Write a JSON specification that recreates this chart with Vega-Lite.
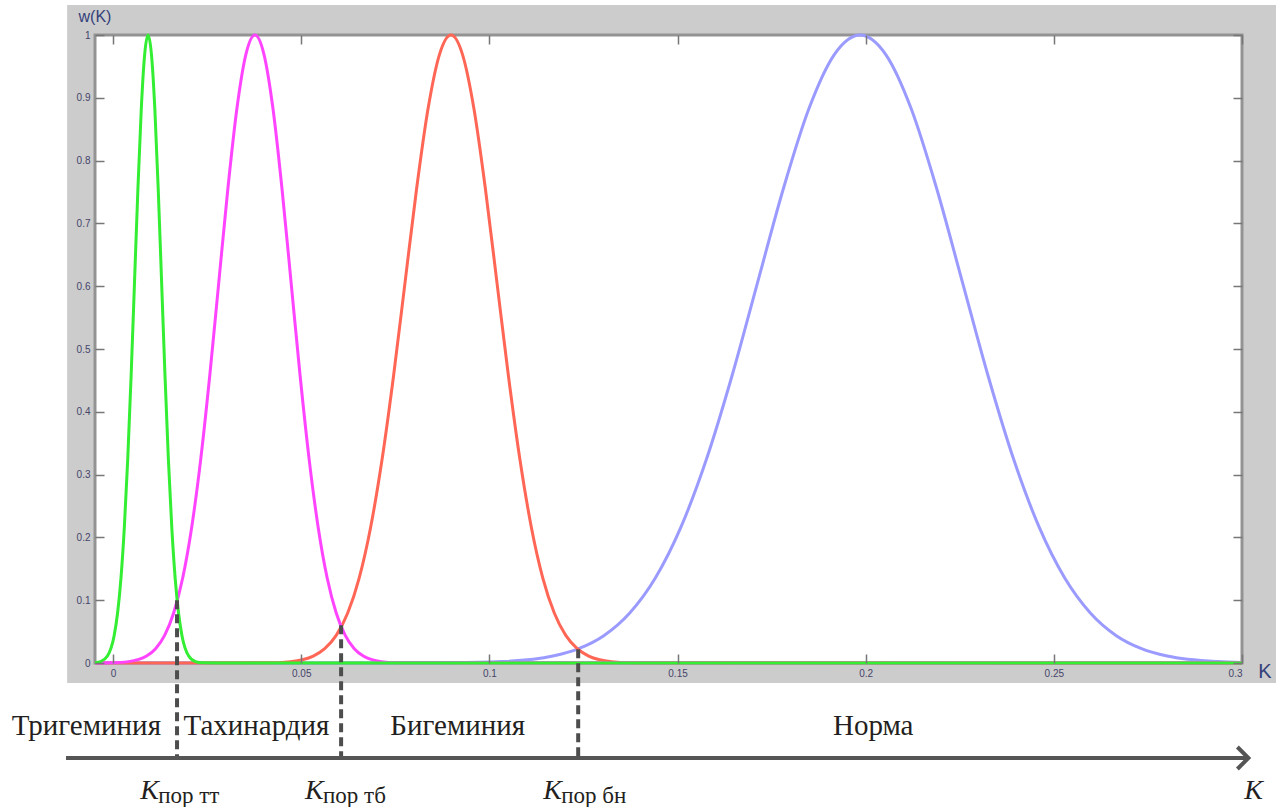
{
  "$schema": "https://vega.github.io/schema/vega-lite/v6.json",
  "width": 1147,
  "height": 628,
  "autosize": {"type": "none"},
  "padding": {"left": 95, "top": 35, "right": 34, "bottom": 144},
  "background": "white",
  "config": {
    "view": {"stroke": null, "fill": null},
    "axis": {
      "grid": false,
      "domain": false,
      "labelFont": "Liberation Sans",
      "labelFontSize": 10,
      "labelColor": "#45456a",
      "tickColor": "#777777",
      "tickWidth": 1.5,
      "tickSize": -9,
      "labelPadding": 14
    }
  },
  "datasets": {
    "panel": [{"x1": -0.0122, "x2": 0.3092, "y1": -0.0319, "y2": 1.0478}],
    "plot": [{"x1": -0.0048, "x2": 0.3, "y1": 0, "y2": 1}],
    "curves": [
      {"series": "Норма", "k": -0.0048, "w": 0},
      {"series": "Норма", "k": 0.08, "w": 0.0001},
      {"series": "Норма", "k": 0.0897, "w": 0.0003},
      {"series": "Норма", "k": 0.1033, "w": 0.0022},
      {"series": "Норма", "k": 0.1169, "w": 0.0111},
      {"series": "Норма", "k": 0.1237, "w": 0.0228},
      {"series": "Норма", "k": 0.1305, "w": 0.0439},
      {"series": "Норма", "k": 0.1373, "w": 0.0796},
      {"series": "Норма", "k": 0.1441, "w": 0.1353},
      {"series": "Норма", "k": 0.1509, "w": 0.2163},
      {"series": "Норма", "k": 0.1577, "w": 0.3247},
      {"series": "Норма", "k": 0.1645, "w": 0.4578},
      {"series": "Норма", "k": 0.1713, "w": 0.6065},
      {"series": "Норма", "k": 0.1781, "w": 0.7548},
      {"series": "Норма", "k": 0.1849, "w": 0.8825},
      {"series": "Норма", "k": 0.1917, "w": 0.9692},
      {"series": "Норма", "k": 0.1985, "w": 1},
      {"series": "Норма", "k": 0.2053, "w": 0.9692},
      {"series": "Норма", "k": 0.2121, "w": 0.8825},
      {"series": "Норма", "k": 0.2189, "w": 0.7548},
      {"series": "Норма", "k": 0.2257, "w": 0.6065},
      {"series": "Норма", "k": 0.2325, "w": 0.4578},
      {"series": "Норма", "k": 0.2393, "w": 0.3247},
      {"series": "Норма", "k": 0.2461, "w": 0.2163},
      {"series": "Норма", "k": 0.2529, "w": 0.1353},
      {"series": "Норма", "k": 0.2597, "w": 0.0796},
      {"series": "Норма", "k": 0.2665, "w": 0.0439},
      {"series": "Норма", "k": 0.2733, "w": 0.0228},
      {"series": "Норма", "k": 0.2801, "w": 0.0111},
      {"series": "Норма", "k": 0.2937, "w": 0.0022},
      {"series": "Норма", "k": 0.3, "w": 0.0009},

      {"series": "Бигеминия", "k": -0.0048, "w": 0},
      {"series": "Бигеминия", "k": 0.041, "w": 0.0003},
      {"series": "Бигеминия", "k": 0.0471, "w": 0.0022},
      {"series": "Бигеминия", "k": 0.0532, "w": 0.0111},
      {"series": "Бигеминия", "k": 0.05625, "w": 0.0228},
      {"series": "Бигеминия", "k": 0.0593, "w": 0.0439},
      {"series": "Бигеминия", "k": 0.06235, "w": 0.0796},
      {"series": "Бигеминия", "k": 0.0654, "w": 0.1353},
      {"series": "Бигеминия", "k": 0.06845, "w": 0.2163},
      {"series": "Бигеминия", "k": 0.0715, "w": 0.3247},
      {"series": "Бигеминия", "k": 0.07455, "w": 0.4578},
      {"series": "Бигеминия", "k": 0.0776, "w": 0.6065},
      {"series": "Бигеминия", "k": 0.08065, "w": 0.7548},
      {"series": "Бигеминия", "k": 0.0837, "w": 0.8825},
      {"series": "Бигеминия", "k": 0.08675, "w": 0.9692},
      {"series": "Бигеминия", "k": 0.0898, "w": 1},
      {"series": "Бигеминия", "k": 0.09285, "w": 0.9692},
      {"series": "Бигеминия", "k": 0.0959, "w": 0.8825},
      {"series": "Бигеминия", "k": 0.09895, "w": 0.7548},
      {"series": "Бигеминия", "k": 0.102, "w": 0.6065},
      {"series": "Бигеминия", "k": 0.10505, "w": 0.4578},
      {"series": "Бигеминия", "k": 0.1081, "w": 0.3247},
      {"series": "Бигеминия", "k": 0.11115, "w": 0.2163},
      {"series": "Бигеминия", "k": 0.1142, "w": 0.1353},
      {"series": "Бигеминия", "k": 0.11725, "w": 0.0796},
      {"series": "Бигеминия", "k": 0.1203, "w": 0.0439},
      {"series": "Бигеминия", "k": 0.12335, "w": 0.0228},
      {"series": "Бигеминия", "k": 0.1264, "w": 0.0111},
      {"series": "Бигеминия", "k": 0.1325, "w": 0.0022},
      {"series": "Бигеминия", "k": 0.1386, "w": 0.0003},
      {"series": "Бигеминия", "k": 0.3, "w": 0},

      {"series": "Тахинардия", "k": -0.0048, "w": 0},
      {"series": "Тахинардия", "k": -0.0007, "w": 0.0003},
      {"series": "Тахинардия", "k": 0.0041, "w": 0.0022},
      {"series": "Тахинардия", "k": 0.0089, "w": 0.0111},
      {"series": "Тахинардия", "k": 0.0113, "w": 0.0228},
      {"series": "Тахинардия", "k": 0.0137, "w": 0.0439},
      {"series": "Тахинардия", "k": 0.0161, "w": 0.0796},
      {"series": "Тахинардия", "k": 0.0185, "w": 0.1353},
      {"series": "Тахинардия", "k": 0.0209, "w": 0.2163},
      {"series": "Тахинардия", "k": 0.0233, "w": 0.3247},
      {"series": "Тахинардия", "k": 0.0257, "w": 0.4578},
      {"series": "Тахинардия", "k": 0.0281, "w": 0.6065},
      {"series": "Тахинардия", "k": 0.0305, "w": 0.7548},
      {"series": "Тахинардия", "k": 0.0329, "w": 0.8825},
      {"series": "Тахинардия", "k": 0.0353, "w": 0.9692},
      {"series": "Тахинардия", "k": 0.0377, "w": 1},
      {"series": "Тахинардия", "k": 0.0401, "w": 0.9692},
      {"series": "Тахинардия", "k": 0.0425, "w": 0.8825},
      {"series": "Тахинардия", "k": 0.0449, "w": 0.7548},
      {"series": "Тахинардия", "k": 0.0473, "w": 0.6065},
      {"series": "Тахинардия", "k": 0.0497, "w": 0.4578},
      {"series": "Тахинардия", "k": 0.0521, "w": 0.3247},
      {"series": "Тахинардия", "k": 0.0545, "w": 0.2163},
      {"series": "Тахинардия", "k": 0.0569, "w": 0.1353},
      {"series": "Тахинардия", "k": 0.0593, "w": 0.0796},
      {"series": "Тахинардия", "k": 0.0617, "w": 0.0439},
      {"series": "Тахинардия", "k": 0.0641, "w": 0.0228},
      {"series": "Тахинардия", "k": 0.0665, "w": 0.0111},
      {"series": "Тахинардия", "k": 0.0713, "w": 0.0022},
      {"series": "Тахинардия", "k": 0.0761, "w": 0.0003},
      {"series": "Тахинардия", "k": 0.3, "w": 0},

      {"series": "Тригеминия", "k": -0.0048, "w": 0.0004},
      {"series": "Тригеминия", "k": -0.0033, "w": 0.0022},
      {"series": "Тригеминия", "k": -0.0015, "w": 0.0111},
      {"series": "Тригеминия", "k": 0.0003, "w": 0.0439},
      {"series": "Тригеминия", "k": 0.0012, "w": 0.0796},
      {"series": "Тригеминия", "k": 0.0021, "w": 0.1353},
      {"series": "Тригеминия", "k": 0.003, "w": 0.2163},
      {"series": "Тригеминия", "k": 0.0039, "w": 0.3247},
      {"series": "Тригеминия", "k": 0.0048, "w": 0.4578},
      {"series": "Тригеминия", "k": 0.0057, "w": 0.6065},
      {"series": "Тригеминия", "k": 0.0066, "w": 0.7548},
      {"series": "Тригеминия", "k": 0.0075, "w": 0.8825},
      {"series": "Тригеминия", "k": 0.0084, "w": 0.9692},
      {"series": "Тригеминия", "k": 0.0093, "w": 1},
      {"series": "Тригеминия", "k": 0.0102, "w": 0.9692},
      {"series": "Тригеминия", "k": 0.0111, "w": 0.8825},
      {"series": "Тригеминия", "k": 0.012, "w": 0.7548},
      {"series": "Тригеминия", "k": 0.0129, "w": 0.6065},
      {"series": "Тригеминия", "k": 0.0138, "w": 0.4578},
      {"series": "Тригеминия", "k": 0.0147, "w": 0.3247},
      {"series": "Тригеминия", "k": 0.0156, "w": 0.2163},
      {"series": "Тригеминия", "k": 0.0165, "w": 0.1353},
      {"series": "Тригеминия", "k": 0.0174, "w": 0.0796},
      {"series": "Тригеминия", "k": 0.0183, "w": 0.0439},
      {"series": "Тригеминия", "k": 0.0201, "w": 0.0111},
      {"series": "Тригеминия", "k": 0.0219, "w": 0.0022},
      {"series": "Тригеминия", "k": 0.0237, "w": 0.0003},
      {"series": "Тригеминия", "k": 0.03, "w": 0},
      {"series": "Тригеминия", "k": 0.3, "w": 0}
    ],
    "thresholds": [
      {"k": 0.017, "top": 0.1, "bottom": -0.1513},
      {"k": 0.0606, "top": 0.06, "bottom": -0.1513},
      {"k": 0.1236, "top": 0.022, "bottom": -0.1513}
    ],
    "axisline": [{"k1": -0.0125, "k2": 0.3012, "level": -0.1513}],
    "arrowhead": [{"k": 0.3017, "level": -0.1513}],
    "regions": [
      {"label": "Тригеминия", "k": -0.0071, "level": -0.1146},
      {"label": "Тахинардия", "k": 0.0381, "level": -0.1146},
      {"label": "Бигеминия", "k": 0.0916, "level": -0.1146},
      {"label": "Норма", "k": 0.202, "level": -0.1146}
    ],
    "kmain": [
      {"label": "K", "k": 0.0072, "level": -0.2166},
      {"label": "K", "k": 0.051, "level": -0.2166},
      {"label": "K", "k": 0.1143, "level": -0.2166},
      {"label": "K", "k": 0.3006, "level": -0.2166}
    ],
    "ksub": [
      {"label": "пор тт", "k": 0.012, "level": -0.2225},
      {"label": "пор тб", "k": 0.0558, "level": -0.2225},
      {"label": "пор бн", "k": 0.1191, "level": -0.2225}
    ],
    "wlabel": [{"label": "w(K)", "k": -0.0048, "level": 1.0207}],
    "klabel": [{"label": "K", "k": 0.3043, "level": -0.0239}]
  },
  "layer": [
    {
      "data": {"name": "panel"},
      "mark": {"type": "rect", "fill": "#cccccc", "clip": false},
      "encoding": {
        "x": {"field": "x1", "type": "quantitative", "axis": null},
        "x2": {"field": "x2"},
        "y": {"field": "y1", "type": "quantitative", "axis": null},
        "y2": {"field": "y2"}
      }
    },
    {
      "data": {"name": "plot"},
      "mark": {"type": "rect", "fill": "white", "stroke": "#939393", "strokeWidth": 3, "clip": false},
      "encoding": {
        "x": {"field": "x1", "type": "quantitative", "axis": {"orient": "top", "zindex": 1, "labels": false, "title": null, "values": [0, 0.05, 0.1, 0.15, 0.2, 0.25, 0.3]}},
        "x2": {"field": "x2"},
        "y": {"field": "y1", "type": "quantitative", "axis": {"orient": "right", "zindex": 1, "labels": false, "title": null, "values": [0, 0.1, 0.2, 0.3, 0.4, 0.5, 0.6, 0.7, 0.8, 0.9, 1]}},
        "y2": {"field": "y2"}
      }
    },
    {
      "data": {"name": "curves"},
      "mark": {"type": "line", "strokeWidth": 3, "interpolate": "monotone", "clip": false},
      "encoding": {
        "x": {"field": "k", "type": "quantitative",
              "scale": {"domain": [-0.0048, 0.3], "nice": false, "zero": false},
              "axis": {"orient": "bottom", "zindex": 1, "title": null, "format": "~g", "values": [0, 0.05, 0.1, 0.15, 0.2, 0.25, 0.3]}},
        "y": {"field": "w", "type": "quantitative",
              "scale": {"domain": [0, 1], "nice": false, "zero": false},
              "axis": {"orient": "left", "zindex": 1, "title": null, "format": "~g", "values": [0, 0.1, 0.2, 0.3, 0.4, 0.5, 0.6, 0.7, 0.8, 0.9, 1]}},
        "color": {"field": "series", "type": "nominal", "legend": null,
                  "scale": {"domain": ["Норма", "Бигеминия", "Тахинардия", "Тригеминия"],
                            "range": ["#9a9aff", "#ff6655", "#ff44ff", "#33ee33"]}}
      }
    },
    {
      "data": {"name": "thresholds"},
      "mark": {"type": "rule", "stroke": "#4d4d4d", "strokeWidth": 4, "strokeDash": [9, 5], "clip": false},
      "encoding": {
        "x": {"field": "k", "type": "quantitative", "axis": null},
        "y": {"field": "top", "type": "quantitative", "axis": null},
        "y2": {"field": "bottom"}
      }
    },
    {
      "data": {"name": "axisline"},
      "mark": {"type": "rule", "stroke": "#555555", "strokeWidth": 4, "clip": false},
      "encoding": {
        "x": {"field": "k1", "type": "quantitative", "axis": null},
        "x2": {"field": "k2"},
        "y": {"field": "level", "type": "quantitative", "axis": null}
      }
    },
    {
      "data": {"name": "arrowhead"},
      "mark": {"type": "point", "shape": "M -1 -1 L 0 0 L -1 1", "size": 484, "filled": false, "stroke": "#555555", "strokeWidth": 4, "opacity": 1, "clip": false},
      "encoding": {
        "x": {"field": "k", "type": "quantitative", "axis": null},
        "y": {"field": "level", "type": "quantitative", "axis": null}
      }
    },
    {
      "data": {"name": "regions"},
      "mark": {"type": "text", "font": "Liberation Serif", "fontSize": 29, "align": "center", "baseline": "alphabetic", "color": "#231f20", "clip": false},
      "encoding": {
        "x": {"field": "k", "type": "quantitative", "axis": null},
        "y": {"field": "level", "type": "quantitative", "axis": null},
        "text": {"field": "label"}
      }
    },
    {
      "data": {"name": "kmain"},
      "mark": {"type": "text", "font": "Liberation Serif", "fontSize": 28, "fontStyle": "italic", "align": "left", "baseline": "alphabetic", "color": "#231f20", "clip": false},
      "encoding": {
        "x": {"field": "k", "type": "quantitative", "axis": null},
        "y": {"field": "level", "type": "quantitative", "axis": null},
        "text": {"field": "label"}
      }
    },
    {
      "data": {"name": "ksub"},
      "mark": {"type": "text", "font": "Liberation Serif", "fontSize": 23, "align": "left", "baseline": "alphabetic", "color": "#231f20", "clip": false},
      "encoding": {
        "x": {"field": "k", "type": "quantitative", "axis": null},
        "y": {"field": "level", "type": "quantitative", "axis": null},
        "text": {"field": "label"}
      }
    },
    {
      "data": {"name": "wlabel"},
      "mark": {"type": "text", "font": "Liberation Sans", "fontSize": 16, "align": "center", "baseline": "alphabetic", "color": "#34407a", "clip": false},
      "encoding": {
        "x": {"field": "k", "type": "quantitative", "axis": null},
        "y": {"field": "level", "type": "quantitative", "axis": null},
        "text": {"field": "label"}
      }
    },
    {
      "data": {"name": "klabel"},
      "mark": {"type": "text", "font": "Liberation Sans", "fontSize": 20, "align": "left", "baseline": "alphabetic", "color": "#34407a", "clip": false},
      "encoding": {
        "x": {"field": "k", "type": "quantitative", "axis": null},
        "y": {"field": "level", "type": "quantitative", "axis": null},
        "text": {"field": "label"}
      }
    }
  ],
  "resolve": {"axis": {"x": "independent", "y": "independent"}}
}
